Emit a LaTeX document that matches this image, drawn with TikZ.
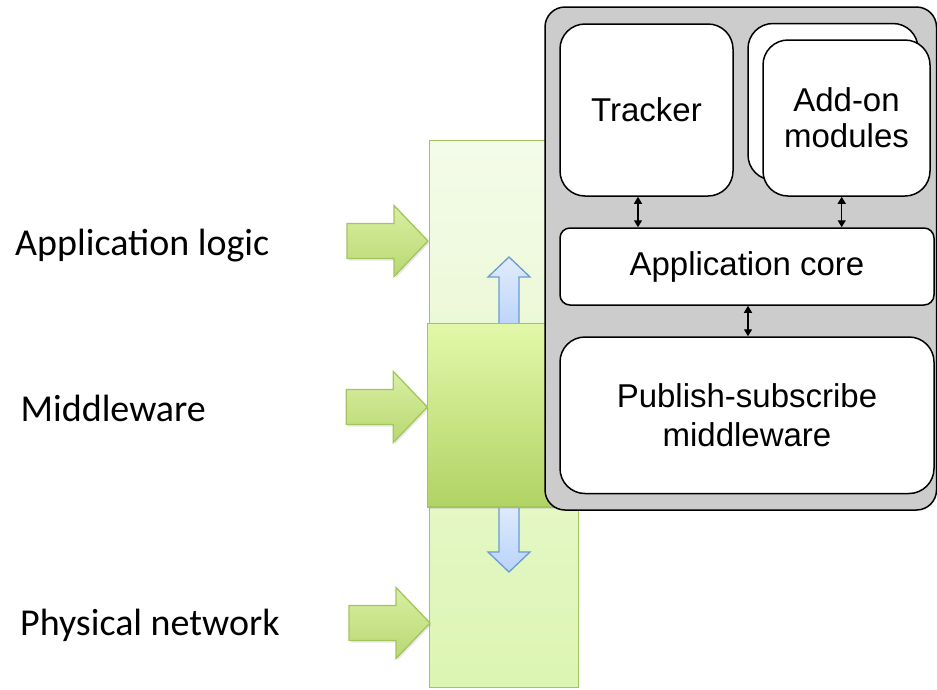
\documentclass[tikz,border=0pt]{standalone}
\usepackage{fontspec}
\setmainfont{Liberation Sans}
\newfontfamily\calib{Carlito}
\usetikzlibrary{arrows.meta,shadows}
\definecolor{Gedge}{HTML}{A3C55E}
\definecolor{ColTop}{HTML}{F4FBEA}
\definecolor{ColBot}{HTML}{DCF5B2}
\definecolor{MidTop}{HTML}{E2F8A9}
\definecolor{MidBot}{HTML}{B1D364}
\definecolor{ArrTop}{HTML}{D8EFA2}
\definecolor{ArrBot}{HTML}{B9D872}
\definecolor{Bedge}{HTML}{6A9BD2}
\definecolor{BTop}{HTML}{E2ECFC}
\definecolor{BBot}{HTML}{B9D3FA}
\definecolor{GrayFill}{HTML}{CCCCCC}
\begin{document}
\begin{tikzpicture}[x=1pt,y=-1pt,
  gedge/.style={draw=Gedge, line width=1.3pt},
  softshadow/.style={drop shadow={opacity=0.18, shadow xshift=1.5pt, shadow yshift=-2pt}},
  bluearrow/.style={draw=Bedge, line width=1.3pt, top color=BTop, bottom color=BBot},
  greenarrow/.style={gedge, top color=ArrTop, bottom color=ArrBot, softshadow},
  innerbox/.style={draw=black, fill=white, line width=1.5pt, inner sep=0pt, align=center,
    font=\fontsize{33}{36}\selectfont},
  dbl/.style={{Triangle[width=8pt,length=7pt]}-{Triangle[width=8pt,length=7pt]}, line width=1.4pt},
  leftlabel/.style={anchor=base west, inner sep=0pt, font=\calib\fontsize{38}{40}\selectfont}
]
\useasboundingbox (0,0) rectangle (937,689);

% green column
\path[gedge, top color=ColTop, bottom color=ColBot] (429.5,140.7) rectangle (578.3,687.3);

% blue arrows
\path[bluearrow] (499,330) -- (499,277) -- (488,277) -- (509,257) -- (530,277) -- (519,277) -- (519,330) -- cycle;
\path[bluearrow] (499,500) -- (499,552) -- (488,552) -- (509,572) -- (530,552) -- (519,552) -- (519,500) -- cycle;

% middleware box
\path[gedge, top color=MidTop, bottom color=MidBot, softshadow] (427.3,323.5) rectangle (578.3,507);

% green arrows
\foreach \tx/\ty in {428/241, 427.3/407, 430/623}{
  \path[greenarrow] ({\tx-81},{\ty-17.5}) -- ({\tx-34},{\ty-17.5}) -- ({\tx-34},{\ty-35.5})
     -- (\tx,\ty) -- ({\tx-34},{\ty+35.5}) -- ({\tx-34},{\ty+17.5}) -- ({\tx-81},{\ty+17.5}) -- cycle;
}

% gray container
\node[draw=black, fill=GrayFill, line width=1.5pt, rounded corners=20pt, inner sep=0pt,
      minimum width=391.5pt, minimum height=503pt] (gray) at (740.75,258.5) {};

% inner boxes
\node[innerbox, rounded corners=25pt, minimum width=173pt, minimum height=172pt] (tracker) at (646.5,110) {Tracker};
\node[innerbox, rounded corners=25pt, minimum width=170pt, minimum height=156.5pt] (addonback) at (833,101.75) {};
\node[innerbox, rounded corners=25pt, minimum width=167pt, minimum height=156pt] (addon) at (846.5,118) {Add-on\\modules};
\node[innerbox, rounded corners=10pt, minimum width=374pt, minimum height=77pt] (core) at (747,266.5) {Application core};
\node[innerbox, rounded corners=25pt, minimum width=374pt, minimum height=156.5pt,
      font=\fontsize{33}{38.5}\selectfont] (pubsub) at (747,415.25) {Publish-subscribe\\middleware};

% small connectors
\draw[dbl] (638,0 |- tracker.south) -- (638,0 |- core.north);
\draw[dbl] (841.7,0 |- addon.south) -- (841.7,0 |- core.north);
\draw[dbl] (748,0 |- core.south) -- (748,0 |- pubsub.north);

% left labels
\node[leftlabel] (lapp) at (15,255) {Application logic};
\node[leftlabel] (lmid) at (20.5,421.7) {Middleware};
\node[leftlabel] (lphy) at (20,635) {Physical network};
\end{tikzpicture}
\end{document}
